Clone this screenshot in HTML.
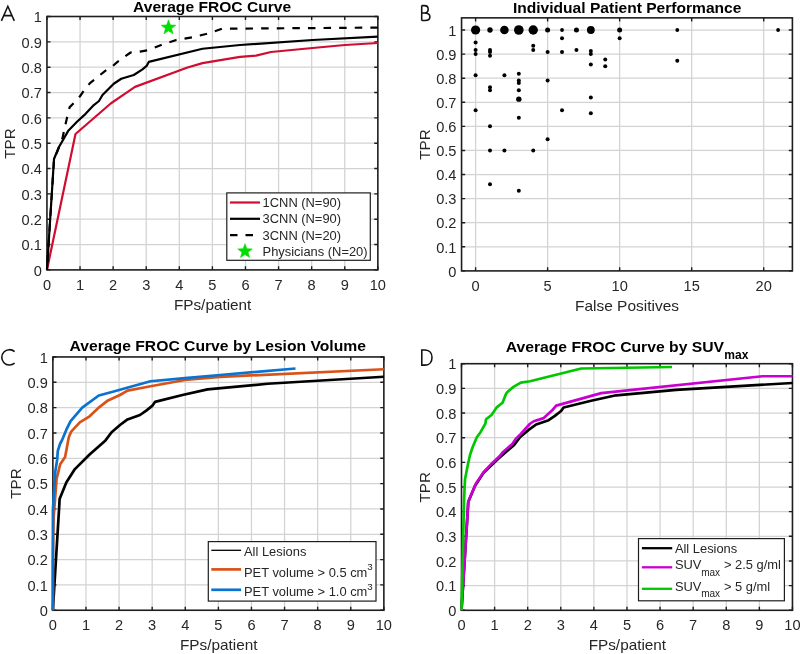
<!DOCTYPE html><html><head><meta charset="utf-8"><style>html,body{margin:0;padding:0;background:#fff;overflow:hidden;}svg{display:block;will-change:transform;}</style></head><body>
<svg width="800" height="654" viewBox="0 0 800 654" font-family='"Liberation Sans", sans-serif' fill="#262626">
<rect width="800" height="654" fill="#fff"/>
<g fill="none" stroke="#111" stroke-width="1.55" stroke-linejoin="miter">
<path d="M1.4 20.9 L7.85 6.3 L14.3 20.9 M4.3 15.6 H11.4"/>
<path d="M421.7 5.6 V20.5 M421.7 5.6 H424.4 C426.9 5.6 428.2 7.2 428.2 9.2 C428.2 11.3 426.8 12.9 424.4 12.9 H421.7 M424.4 12.9 C428.0 12.9 429.9 14.6 429.9 16.7 C429.9 19.0 428.0 20.5 425.0 20.5 H421.7"/>
<path d="M14.6 351.6 A7.7 7.7 0 1 0 14.6 363.1"/>
<path d="M421.8 349.9 V365.1 H425.2 C429.8 365.1 432.0 361.6 432.0 357.5 C432.0 353.4 429.8 349.9 425.2 349.9 Z"/>
</g>
<path d="M80.04 16.50V269.90M113.13 16.50V269.90M146.22 16.50V269.90M179.31 16.50V269.90M212.40 16.50V269.90M245.49 16.50V269.90M278.58 16.50V269.90M311.67 16.50V269.90M344.76 16.50V269.90M46.95 244.56H377.85M46.95 219.22H377.85M46.95 193.88H377.85M46.95 168.54H377.85M46.95 143.20H377.85M46.95 117.86H377.85M46.95 92.52H377.85M46.95 67.18H377.85M46.95 41.84H377.85" stroke="#d3d3d3" stroke-width="1.25" fill="none"/>
<rect x="46.95" y="16.50" width="330.90" height="253.40" fill="none" stroke="#1e1e1e" stroke-width="1.6"/>
<path d="M46.95 269.90v-3.60M46.95 16.50v3.60M80.04 269.90v-3.60M80.04 16.50v3.60M113.13 269.90v-3.60M113.13 16.50v3.60M146.22 269.90v-3.60M146.22 16.50v3.60M179.31 269.90v-3.60M179.31 16.50v3.60M212.40 269.90v-3.60M212.40 16.50v3.60M245.49 269.90v-3.60M245.49 16.50v3.60M278.58 269.90v-3.60M278.58 16.50v3.60M311.67 269.90v-3.60M311.67 16.50v3.60M344.76 269.90v-3.60M344.76 16.50v3.60M377.85 269.90v-3.60M377.85 16.50v3.60M46.95 269.90h3.60M377.85 269.90h-3.60M46.95 244.56h3.60M377.85 244.56h-3.60M46.95 219.22h3.60M377.85 219.22h-3.60M46.95 193.88h3.60M377.85 193.88h-3.60M46.95 168.54h3.60M377.85 168.54h-3.60M46.95 143.20h3.60M377.85 143.20h-3.60M46.95 117.86h3.60M377.85 117.86h-3.60M46.95 92.52h3.60M377.85 92.52h-3.60M46.95 67.18h3.60M377.85 67.18h-3.60M46.95 41.84h3.60M377.85 41.84h-3.60M46.95 16.50h3.60M377.85 16.50h-3.60" stroke="#1e1e1e" stroke-width="1.4" fill="none"/>
<polyline points="46.95,269.90 75.50,134.00 110.70,103.50 124.00,94.30 135.00,86.90 187.50,67.50 202.50,63.10 240.00,56.90 256.00,55.60 271.00,52.00 312.50,48.00 345.00,45.00 377.85,43.00" fill="none" stroke="#d00c30" stroke-width="2.2" stroke-linejoin="round" stroke-linecap="butt"/>
<polyline points="46.95,269.90 54.00,159.00 58.70,147.50 68.50,130.40 77.00,121.80 85.60,113.85 92.90,105.90 99.00,101.00 102.50,95.00 113.75,83.75 121.25,78.75 133.75,75.00 142.50,69.40 146.90,65.60 148.75,61.90 202.50,48.75 240.00,45.00 312.50,40.00 377.85,36.60" fill="none" stroke="#000" stroke-width="2.2" stroke-linejoin="round" stroke-linecap="butt"/>
<polyline points="46.95,269.90 54.00,160.00 62.30,138.90 66.60,119.40 69.70,107.10 74.00,102.80 80.00,96.25 84.40,90.00 90.00,83.10 106.25,70.00 112.50,66.25 117.50,61.90 130.60,52.50 140.00,51.60 148.75,50.00 161.25,45.00 176.25,40.00 192.00,37.40 206.00,34.00 213.00,32.00 222.00,28.70 377.85,27.60" fill="none" stroke="#000" stroke-width="2.2" stroke-linejoin="round" stroke-linecap="butt" stroke-dasharray="7.5 8.1" stroke-dashoffset="8.14"/>
<polygon points="168.50,19.90 170.40,24.98 175.82,25.22 171.58,28.60 173.03,33.83 168.50,30.83 163.97,33.83 165.42,28.60 161.18,25.22 166.60,24.98" fill="#00de00" stroke="#00de00" stroke-width="0.6" stroke-linejoin="miter"/>
<text x="46.95" y="289.50" text-anchor="middle" font-size="14.6">0</text>
<text x="80.04" y="289.50" text-anchor="middle" font-size="14.6">1</text>
<text x="113.13" y="289.50" text-anchor="middle" font-size="14.6">2</text>
<text x="146.22" y="289.50" text-anchor="middle" font-size="14.6">3</text>
<text x="179.31" y="289.50" text-anchor="middle" font-size="14.6">4</text>
<text x="212.40" y="289.50" text-anchor="middle" font-size="14.6">5</text>
<text x="245.49" y="289.50" text-anchor="middle" font-size="14.6">6</text>
<text x="278.58" y="289.50" text-anchor="middle" font-size="14.6">7</text>
<text x="311.67" y="289.50" text-anchor="middle" font-size="14.6">8</text>
<text x="344.76" y="289.50" text-anchor="middle" font-size="14.6">9</text>
<text x="377.85" y="289.50" text-anchor="middle" font-size="14.6">10</text>
<text x="41.85" y="275.60" text-anchor="end" font-size="14.6">0</text>
<text x="41.85" y="250.26" text-anchor="end" font-size="14.6">0.1</text>
<text x="41.85" y="224.92" text-anchor="end" font-size="14.6">0.2</text>
<text x="41.85" y="199.58" text-anchor="end" font-size="14.6">0.3</text>
<text x="41.85" y="174.24" text-anchor="end" font-size="14.6">0.4</text>
<text x="41.85" y="148.90" text-anchor="end" font-size="14.6">0.5</text>
<text x="41.85" y="123.56" text-anchor="end" font-size="14.6">0.6</text>
<text x="41.85" y="98.22" text-anchor="end" font-size="14.6">0.7</text>
<text x="41.85" y="72.88" text-anchor="end" font-size="14.6">0.8</text>
<text x="41.85" y="47.54" text-anchor="end" font-size="14.6">0.9</text>
<text x="41.85" y="22.20" text-anchor="end" font-size="14.6">1</text>
<text x="212.1" y="11.8" text-anchor="middle" font-size="15.5" font-weight="bold" fill="#000" textLength="158" lengthAdjust="spacingAndGlyphs">Average FROC Curve</text>
<text x="212.65" y="309.9" text-anchor="middle" font-size="14.8" textLength="77.5" lengthAdjust="spacingAndGlyphs">FPs/patient</text>
<text transform="translate(15.30,143.60) rotate(-90)" text-anchor="middle" font-size="14.8" textLength="30.4" lengthAdjust="spacingAndGlyphs">TPR</text>
<rect x="226.8" y="192.9" width="143.5" height="67.4" fill="#fff" stroke="#1e1e1e" stroke-width="1.2"/>
<line x1="230" y1="202.5" x2="260" y2="202.5" stroke="#d00c30" stroke-width="2.2"/>
<line x1="230" y1="218.8" x2="260" y2="218.8" stroke="#000" stroke-width="2.2"/>
<line x1="230" y1="235.1" x2="260" y2="235.1" stroke="#000" stroke-width="2.2" stroke-dasharray="7.5 8"/>
<polygon points="245.00,243.70 246.88,248.72 252.23,248.95 248.04,252.29 249.47,257.45 245.00,254.49 240.53,257.45 241.96,252.29 237.77,248.95 243.12,248.72" fill="#00de00" stroke="#00de00" stroke-width="0.6" stroke-linejoin="miter"/>
<text x="262.6" y="207.00" font-size="12.9">1CNN (N=90)</text>
<text x="262.6" y="223.45" font-size="12.9">3CNN (N=90)</text>
<text x="262.6" y="239.90" font-size="12.9">3CNN (N=20)</text>
<text x="262.6" y="256.35" font-size="12.9">Physicians (N=20)</text>
<path d="M475.60 17.86V270.90M547.62 17.86V270.90M619.65 17.86V270.90M691.67 17.86V270.90M763.70 17.86V270.90M461.56 246.81H792.40M461.56 222.72H792.40M461.56 198.63H792.40M461.56 174.54H792.40M461.56 150.45H792.40M461.56 126.36H792.40M461.56 102.27H792.40M461.56 78.18H792.40M461.56 54.09H792.40M461.56 30.00H792.40" stroke="#d3d3d3" stroke-width="1.25" fill="none"/>
<rect x="461.56" y="17.86" width="330.84" height="253.04" fill="none" stroke="#1e1e1e" stroke-width="1.6"/>
<path d="M475.60 270.90v-3.60M475.60 17.86v3.60M547.62 270.90v-3.60M547.62 17.86v3.60M619.65 270.90v-3.60M619.65 17.86v3.60M691.67 270.90v-3.60M691.67 17.86v3.60M763.70 270.90v-3.60M763.70 17.86v3.60M461.56 270.90h3.60M792.40 270.90h-3.60M461.56 246.81h3.60M792.40 246.81h-3.60M461.56 222.72h3.60M792.40 222.72h-3.60M461.56 198.63h3.60M792.40 198.63h-3.60M461.56 174.54h3.60M792.40 174.54h-3.60M461.56 150.45h3.60M792.40 150.45h-3.60M461.56 126.36h3.60M792.40 126.36h-3.60M461.56 102.27h3.60M792.40 102.27h-3.60M461.56 78.18h3.60M792.40 78.18h-3.60M461.56 54.09h3.60M792.40 54.09h-3.60M461.56 30.00h3.60M792.40 30.00h-3.60" stroke="#1e1e1e" stroke-width="1.4" fill="none"/>
<circle cx="475.60" cy="30.00" r="4.60" fill="#000"/>
<circle cx="490.00" cy="30.00" r="2.70" fill="#000"/>
<circle cx="504.41" cy="30.00" r="4.30" fill="#000"/>
<circle cx="518.82" cy="30.00" r="4.80" fill="#000"/>
<circle cx="533.22" cy="30.00" r="4.70" fill="#000"/>
<circle cx="547.62" cy="30.00" r="2.50" fill="#000"/>
<circle cx="562.03" cy="30.00" r="1.90" fill="#000"/>
<circle cx="576.44" cy="30.00" r="2.50" fill="#000"/>
<circle cx="590.84" cy="30.00" r="3.90" fill="#000"/>
<circle cx="619.65" cy="30.00" r="2.50" fill="#000"/>
<circle cx="677.27" cy="30.00" r="1.90" fill="#000"/>
<circle cx="778.11" cy="30.00" r="1.90" fill="#000"/>
<circle cx="475.60" cy="42.53" r="2.00" fill="#000"/>
<circle cx="475.60" cy="49.99" r="2.00" fill="#000"/>
<circle cx="475.60" cy="54.09" r="2.00" fill="#000"/>
<circle cx="475.60" cy="75.29" r="2.00" fill="#000"/>
<circle cx="475.60" cy="110.22" r="2.00" fill="#000"/>
<circle cx="490.00" cy="49.99" r="2.00" fill="#000"/>
<circle cx="490.00" cy="51.92" r="2.00" fill="#000"/>
<circle cx="490.00" cy="55.78" r="2.00" fill="#000"/>
<circle cx="490.00" cy="87.33" r="2.00" fill="#000"/>
<circle cx="490.00" cy="90.23" r="2.00" fill="#000"/>
<circle cx="490.00" cy="126.36" r="2.00" fill="#000"/>
<circle cx="490.00" cy="150.45" r="2.00" fill="#000"/>
<circle cx="490.00" cy="184.18" r="2.00" fill="#000"/>
<circle cx="504.41" cy="75.29" r="2.00" fill="#000"/>
<circle cx="504.41" cy="150.45" r="2.00" fill="#000"/>
<circle cx="518.82" cy="73.84" r="2.00" fill="#000"/>
<circle cx="518.82" cy="80.59" r="2.00" fill="#000"/>
<circle cx="518.82" cy="83.00" r="2.00" fill="#000"/>
<circle cx="518.82" cy="90.23" r="2.00" fill="#000"/>
<circle cx="518.82" cy="99.14" r="2.70" fill="#000"/>
<circle cx="518.82" cy="117.69" r="2.00" fill="#000"/>
<circle cx="518.82" cy="190.68" r="2.00" fill="#000"/>
<circle cx="533.22" cy="45.66" r="2.00" fill="#000"/>
<circle cx="533.22" cy="49.99" r="2.00" fill="#000"/>
<circle cx="533.22" cy="150.45" r="2.00" fill="#000"/>
<circle cx="547.62" cy="51.92" r="2.00" fill="#000"/>
<circle cx="547.62" cy="80.59" r="2.00" fill="#000"/>
<circle cx="547.62" cy="139.37" r="2.00" fill="#000"/>
<circle cx="562.03" cy="38.19" r="2.00" fill="#000"/>
<circle cx="562.03" cy="51.92" r="2.00" fill="#000"/>
<circle cx="562.03" cy="110.22" r="2.00" fill="#000"/>
<circle cx="576.44" cy="49.99" r="2.00" fill="#000"/>
<circle cx="590.84" cy="50.96" r="2.00" fill="#000"/>
<circle cx="590.84" cy="54.09" r="2.00" fill="#000"/>
<circle cx="590.84" cy="64.45" r="2.00" fill="#000"/>
<circle cx="590.84" cy="97.45" r="2.00" fill="#000"/>
<circle cx="590.84" cy="113.35" r="2.00" fill="#000"/>
<circle cx="605.25" cy="59.39" r="2.00" fill="#000"/>
<circle cx="605.25" cy="66.14" r="2.00" fill="#000"/>
<circle cx="619.65" cy="38.19" r="2.00" fill="#000"/>
<circle cx="677.27" cy="60.84" r="2.00" fill="#000"/>
<text x="475.60" y="290.50" text-anchor="middle" font-size="14.6">0</text>
<text x="547.62" y="290.50" text-anchor="middle" font-size="14.6">5</text>
<text x="619.65" y="290.50" text-anchor="middle" font-size="14.6">10</text>
<text x="691.67" y="290.50" text-anchor="middle" font-size="14.6">15</text>
<text x="763.70" y="290.50" text-anchor="middle" font-size="14.6">20</text>
<text x="456.46" y="276.60" text-anchor="end" font-size="14.6">0</text>
<text x="456.46" y="252.51" text-anchor="end" font-size="14.6">0.1</text>
<text x="456.46" y="228.42" text-anchor="end" font-size="14.6">0.2</text>
<text x="456.46" y="204.33" text-anchor="end" font-size="14.6">0.3</text>
<text x="456.46" y="180.24" text-anchor="end" font-size="14.6">0.4</text>
<text x="456.46" y="156.15" text-anchor="end" font-size="14.6">0.5</text>
<text x="456.46" y="132.06" text-anchor="end" font-size="14.6">0.6</text>
<text x="456.46" y="107.97" text-anchor="end" font-size="14.6">0.7</text>
<text x="456.46" y="83.88" text-anchor="end" font-size="14.6">0.8</text>
<text x="456.46" y="59.79" text-anchor="end" font-size="14.6">0.9</text>
<text x="456.46" y="35.70" text-anchor="end" font-size="14.6">1</text>
<text x="627.15" y="12.75" text-anchor="middle" font-size="15.5" font-weight="bold" fill="#000" textLength="228.5" lengthAdjust="spacingAndGlyphs">Individual Patient Performance</text>
<text x="627" y="310.9" text-anchor="middle" font-size="14.8" textLength="104" lengthAdjust="spacingAndGlyphs">False Positives</text>
<text transform="translate(430.00,144.50) rotate(-90)" text-anchor="middle" font-size="14.8" textLength="30.4" lengthAdjust="spacingAndGlyphs">TPR</text>
<path d="M85.97 356.95V610.25M119.07 356.95V610.25M152.17 356.95V610.25M185.27 356.95V610.25M218.37 356.95V610.25M251.46 356.95V610.25M284.56 356.95V610.25M317.66 356.95V610.25M350.76 356.95V610.25M52.87 584.92H383.86M52.87 559.59H383.86M52.87 534.26H383.86M52.87 508.93H383.86M52.87 483.60H383.86M52.87 458.27H383.86M52.87 432.94H383.86M52.87 407.61H383.86M52.87 382.28H383.86" stroke="#d3d3d3" stroke-width="1.25" fill="none"/>
<rect x="52.87" y="356.95" width="330.99" height="253.30" fill="none" stroke="#1e1e1e" stroke-width="1.6"/>
<path d="M52.87 610.25v-3.60M52.87 356.95v3.60M85.97 610.25v-3.60M85.97 356.95v3.60M119.07 610.25v-3.60M119.07 356.95v3.60M152.17 610.25v-3.60M152.17 356.95v3.60M185.27 610.25v-3.60M185.27 356.95v3.60M218.37 610.25v-3.60M218.37 356.95v3.60M251.46 610.25v-3.60M251.46 356.95v3.60M284.56 610.25v-3.60M284.56 356.95v3.60M317.66 610.25v-3.60M317.66 356.95v3.60M350.76 610.25v-3.60M350.76 356.95v3.60M383.86 610.25v-3.60M383.86 356.95v3.60M52.87 610.25h3.60M383.86 610.25h-3.60M52.87 584.92h3.60M383.86 584.92h-3.60M52.87 559.59h3.60M383.86 559.59h-3.60M52.87 534.26h3.60M383.86 534.26h-3.60M52.87 508.93h3.60M383.86 508.93h-3.60M52.87 483.60h3.60M383.86 483.60h-3.60M52.87 458.27h3.60M383.86 458.27h-3.60M52.87 432.94h3.60M383.86 432.94h-3.60M52.87 407.61h3.60M383.86 407.61h-3.60M52.87 382.28h3.60M383.86 382.28h-3.60M52.87 356.95h3.60M383.86 356.95h-3.60" stroke="#1e1e1e" stroke-width="1.4" fill="none"/>
<polyline points="52.87,610.25 59.30,505.00 59.60,499.10 66.30,482.60 74.90,469.10 89.60,454.50 105.50,440.40 111.60,432.20 120.00,425.00 127.50,419.40 140.00,415.00 146.25,410.60 152.50,405.60 155.00,401.90 182.50,395.00 207.50,389.40 267.50,383.75 383.86,376.75" fill="none" stroke="#000" stroke-width="2.7" stroke-linejoin="round" stroke-linecap="butt"/>
<polyline points="52.87,610.25 52.90,560.00 53.60,518.00 55.00,500.00 56.60,478.90 60.20,464.30 65.10,456.90 68.80,437.30 71.20,431.60 79.80,422.40 89.60,416.30 99.40,407.10 108.00,400.40 120.00,395.00 127.50,390.60 150.60,386.25 185.00,380.00 220.00,376.90 383.86,369.25" fill="none" stroke="#d95319" stroke-width="2.7" stroke-linejoin="round" stroke-linecap="butt"/>
<polyline points="52.87,610.25 52.90,510.00 55.30,471.60 57.20,459.40 57.80,450.80 60.20,443.50 62.10,440.00 66.35,429.70 70.60,421.20 82.25,407.70 98.80,395.50 112.80,391.80 128.00,387.50 150.60,381.25 185.00,378.10 220.00,375.00 295.50,368.50" fill="none" stroke="#0a72d0" stroke-width="2.7" stroke-linejoin="round" stroke-linecap="butt"/>
<text x="52.87" y="629.85" text-anchor="middle" font-size="14.6">0</text>
<text x="85.97" y="629.85" text-anchor="middle" font-size="14.6">1</text>
<text x="119.07" y="629.85" text-anchor="middle" font-size="14.6">2</text>
<text x="152.17" y="629.85" text-anchor="middle" font-size="14.6">3</text>
<text x="185.27" y="629.85" text-anchor="middle" font-size="14.6">4</text>
<text x="218.37" y="629.85" text-anchor="middle" font-size="14.6">5</text>
<text x="251.46" y="629.85" text-anchor="middle" font-size="14.6">6</text>
<text x="284.56" y="629.85" text-anchor="middle" font-size="14.6">7</text>
<text x="317.66" y="629.85" text-anchor="middle" font-size="14.6">8</text>
<text x="350.76" y="629.85" text-anchor="middle" font-size="14.6">9</text>
<text x="383.86" y="629.85" text-anchor="middle" font-size="14.6">10</text>
<text x="47.77" y="615.95" text-anchor="end" font-size="14.6">0</text>
<text x="47.77" y="590.62" text-anchor="end" font-size="14.6">0.1</text>
<text x="47.77" y="565.29" text-anchor="end" font-size="14.6">0.2</text>
<text x="47.77" y="539.96" text-anchor="end" font-size="14.6">0.3</text>
<text x="47.77" y="514.63" text-anchor="end" font-size="14.6">0.4</text>
<text x="47.77" y="489.30" text-anchor="end" font-size="14.6">0.5</text>
<text x="47.77" y="463.97" text-anchor="end" font-size="14.6">0.6</text>
<text x="47.77" y="438.64" text-anchor="end" font-size="14.6">0.7</text>
<text x="47.77" y="413.31" text-anchor="end" font-size="14.6">0.8</text>
<text x="47.77" y="387.98" text-anchor="end" font-size="14.6">0.9</text>
<text x="47.77" y="362.65" text-anchor="end" font-size="14.6">1</text>
<text x="217.8" y="351.4" text-anchor="middle" font-size="15.5" font-weight="bold" fill="#000" textLength="296.4" lengthAdjust="spacingAndGlyphs">Average FROC Curve by Lesion Volume</text>
<text x="218.75" y="649.8" text-anchor="middle" font-size="14.8" textLength="77.5" lengthAdjust="spacingAndGlyphs">FPs/patient</text>
<text transform="translate(20.90,483.50) rotate(-90)" text-anchor="middle" font-size="14.8" textLength="30.4" lengthAdjust="spacingAndGlyphs">TPR</text>
<rect x="208.3" y="541.6" width="167.7" height="59.5" fill="#fff" stroke="#1e1e1e" stroke-width="1.2"/>
<line x1="211.3" y1="550.3" x2="241.1" y2="550.3" stroke="#000" stroke-width="1.3"/>
<line x1="211.3" y1="569.4" x2="241.1" y2="569.4" stroke="#d95319" stroke-width="2.7"/>
<line x1="211.3" y1="589.8" x2="241.1" y2="589.8" stroke="#0a72d0" stroke-width="2.7"/>
<text x="244.0" y="556.2" font-size="12.9">All Lesions</text>
<text x="244.0" y="576.5" font-size="12.9">PET volume &gt; 0.5 cm<tspan dy="-6.6" font-size="9.8">3</tspan></text>
<text x="244.0" y="596.4" font-size="12.9">PET volume &gt; 1.0 cm<tspan dy="-6.6" font-size="9.8">3</tspan></text>
<path d="M494.60 363.70V610.30M527.69 363.70V610.30M560.79 363.70V610.30M593.88 363.70V610.30M626.98 363.70V610.30M660.08 363.70V610.30M693.17 363.70V610.30M726.27 363.70V610.30M759.36 363.70V610.30M461.50 585.64H792.46M461.50 560.98H792.46M461.50 536.32H792.46M461.50 511.66H792.46M461.50 487.00H792.46M461.50 462.34H792.46M461.50 437.68H792.46M461.50 413.02H792.46M461.50 388.36H792.46" stroke="#d3d3d3" stroke-width="1.25" fill="none"/>
<rect x="461.50" y="363.70" width="330.96" height="246.60" fill="none" stroke="#1e1e1e" stroke-width="1.6"/>
<path d="M461.50 610.30v-3.60M461.50 363.70v3.60M494.60 610.30v-3.60M494.60 363.70v3.60M527.69 610.30v-3.60M527.69 363.70v3.60M560.79 610.30v-3.60M560.79 363.70v3.60M593.88 610.30v-3.60M593.88 363.70v3.60M626.98 610.30v-3.60M626.98 363.70v3.60M660.08 610.30v-3.60M660.08 363.70v3.60M693.17 610.30v-3.60M693.17 363.70v3.60M726.27 610.30v-3.60M726.27 363.70v3.60M759.36 610.30v-3.60M759.36 363.70v3.60M792.46 610.30v-3.60M792.46 363.70v3.60M461.50 610.30h3.60M792.46 610.30h-3.60M461.50 585.64h3.60M792.46 585.64h-3.60M461.50 560.98h3.60M792.46 560.98h-3.60M461.50 536.32h3.60M792.46 536.32h-3.60M461.50 511.66h3.60M792.46 511.66h-3.60M461.50 487.00h3.60M792.46 487.00h-3.60M461.50 462.34h3.60M792.46 462.34h-3.60M461.50 437.68h3.60M792.46 437.68h-3.60M461.50 413.02h3.60M792.46 413.02h-3.60M461.50 388.36h3.60M792.46 388.36h-3.60M461.50 363.70h3.60M792.46 363.70h-3.60" stroke="#1e1e1e" stroke-width="1.4" fill="none"/>
<polyline points="461.50,610.30 467.93,507.83 468.23,502.09 474.93,486.03 483.53,472.88 498.23,458.67 514.13,444.94 520.22,436.96 528.62,429.95 536.12,424.50 548.62,420.21 554.87,415.93 561.12,411.06 563.62,407.46 591.12,400.74 616.12,395.29 676.11,389.79 792.46,382.98" fill="none" stroke="#000" stroke-width="2.7" stroke-linejoin="round" stroke-linecap="butt"/>
<polyline points="461.50,610.30 468.30,501.80 470.90,495.30 476.00,483.60 483.50,472.20 491.90,463.40 500.00,455.80 502.50,452.60 512.30,444.00 516.00,438.60 520.80,434.00 525.70,428.50 530.00,423.75 533.75,421.25 543.75,418.10 552.50,410.00 556.25,405.60 601.25,393.10 762.50,376.25 792.46,376.25" fill="none" stroke="#c800d2" stroke-width="2.7" stroke-linejoin="round" stroke-linecap="butt"/>
<polyline points="461.50,610.30 463.80,510.00 464.20,497.00 465.00,479.40 467.60,466.00 470.00,455.00 472.50,447.50 476.80,437.30 480.50,432.20 485.40,423.60 486.00,419.30 491.50,415.00 497.00,407.10 502.50,402.80 506.20,393.60 507.40,392.00 513.50,386.90 520.80,382.60 530.00,381.25 540.00,378.75 581.25,368.50 672.00,367.00" fill="none" stroke="#00c800" stroke-width="2.7" stroke-linejoin="round" stroke-linecap="butt"/>
<text x="461.50" y="629.90" text-anchor="middle" font-size="14.6">0</text>
<text x="494.60" y="629.90" text-anchor="middle" font-size="14.6">1</text>
<text x="527.69" y="629.90" text-anchor="middle" font-size="14.6">2</text>
<text x="560.79" y="629.90" text-anchor="middle" font-size="14.6">3</text>
<text x="593.88" y="629.90" text-anchor="middle" font-size="14.6">4</text>
<text x="626.98" y="629.90" text-anchor="middle" font-size="14.6">5</text>
<text x="660.08" y="629.90" text-anchor="middle" font-size="14.6">6</text>
<text x="693.17" y="629.90" text-anchor="middle" font-size="14.6">7</text>
<text x="726.27" y="629.90" text-anchor="middle" font-size="14.6">8</text>
<text x="759.36" y="629.90" text-anchor="middle" font-size="14.6">9</text>
<text x="792.46" y="629.90" text-anchor="middle" font-size="14.6">10</text>
<text x="456.40" y="616.00" text-anchor="end" font-size="14.6">0</text>
<text x="456.40" y="591.34" text-anchor="end" font-size="14.6">0.1</text>
<text x="456.40" y="566.68" text-anchor="end" font-size="14.6">0.2</text>
<text x="456.40" y="542.02" text-anchor="end" font-size="14.6">0.3</text>
<text x="456.40" y="517.36" text-anchor="end" font-size="14.6">0.4</text>
<text x="456.40" y="492.70" text-anchor="end" font-size="14.6">0.5</text>
<text x="456.40" y="468.04" text-anchor="end" font-size="14.6">0.6</text>
<text x="456.40" y="443.38" text-anchor="end" font-size="14.6">0.7</text>
<text x="456.40" y="418.72" text-anchor="end" font-size="14.6">0.8</text>
<text x="456.40" y="394.06" text-anchor="end" font-size="14.6">0.9</text>
<text x="456.40" y="369.40" text-anchor="end" font-size="14.6">1</text>
<text x="505.7" y="351.6" font-size="15.5" font-weight="bold" fill="#000"><tspan textLength="218.3" lengthAdjust="spacingAndGlyphs">Average FROC Curve by SUV</tspan><tspan x="724.3" y="359.4" font-size="12.3" textLength="24.1" lengthAdjust="spacingAndGlyphs">max</tspan></text>
<text x="627.4" y="649.8" text-anchor="middle" font-size="14.8" textLength="77.5" lengthAdjust="spacingAndGlyphs">FPs/patient</text>
<text transform="translate(430.00,487.30) rotate(-90)" text-anchor="middle" font-size="14.8" textLength="30.4" lengthAdjust="spacingAndGlyphs">TPR</text>
<rect x="638.5" y="538.6" width="145.9" height="62.2" fill="#fff" stroke="#1e1e1e" stroke-width="1.2"/>
<line x1="641.9" y1="548.2" x2="672.2" y2="548.2" stroke="#000" stroke-width="2.3"/>
<line x1="641.9" y1="567.3" x2="672.2" y2="567.3" stroke="#c800d2" stroke-width="2.3"/>
<line x1="641.9" y1="588.8" x2="672.2" y2="588.8" stroke="#00c800" stroke-width="2.3"/>
<text x="674.9" y="552.9" font-size="12.9">All Lesions</text>
<text x="674.9" y="568.8" font-size="12.9">SUV<tspan x="701.2" y="575.6" font-size="10">max</tspan><tspan x="724.0" y="568.8">&gt; 2.5 g/ml</tspan></text>
<text x="674.9" y="590.8" font-size="12.9">SUV<tspan x="701.2" y="597.4" font-size="10">max</tspan><tspan x="724.0" y="590.8">&gt; 5 g/ml</tspan></text>
</svg></body></html>
